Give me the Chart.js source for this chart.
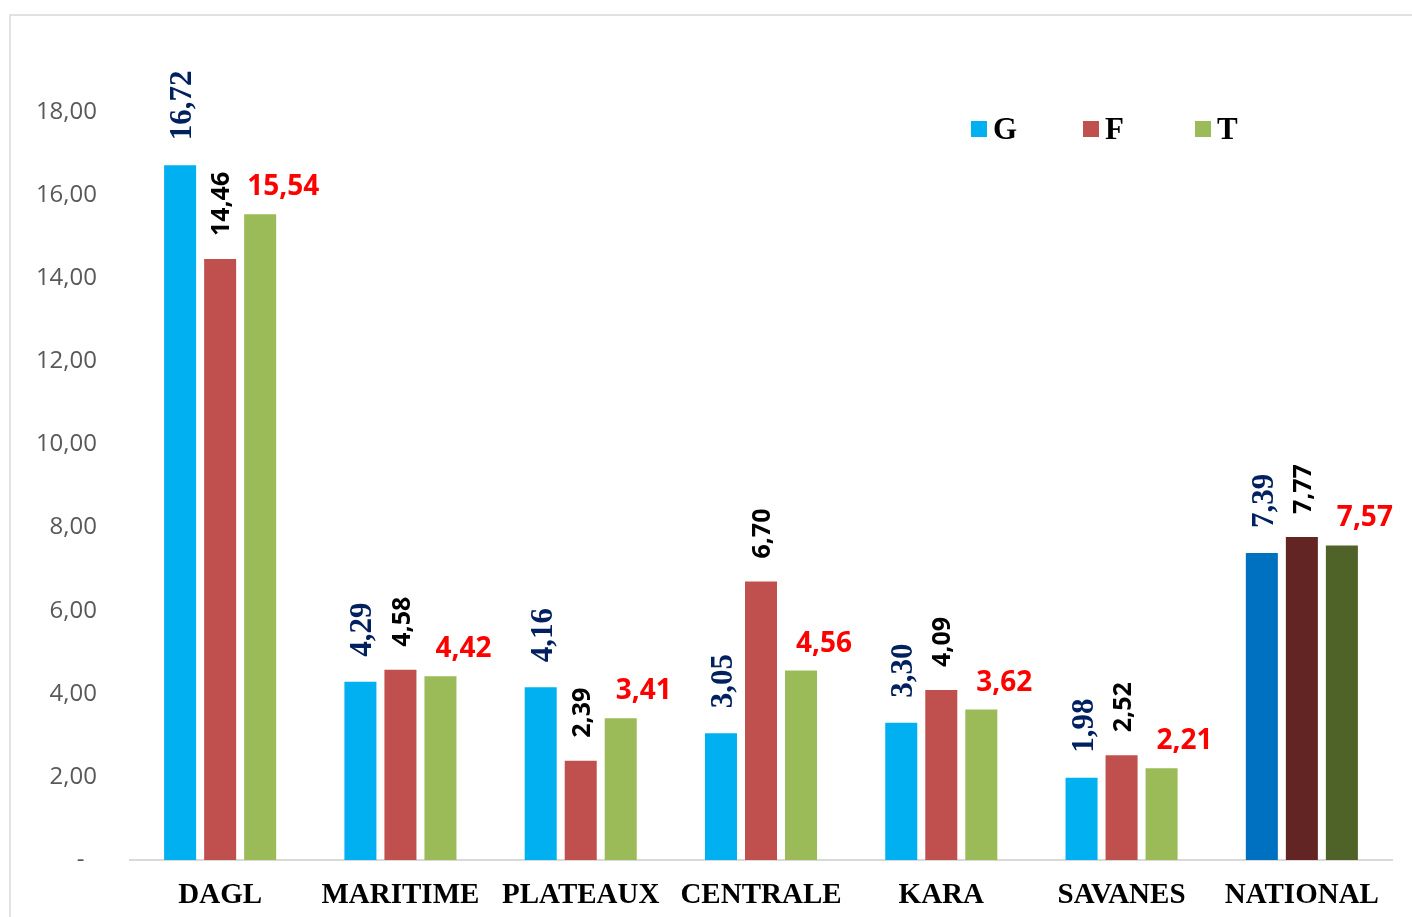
<!DOCTYPE html>
<html>
<head>
<meta charset="utf-8">
<script src="https://cdn.jsdelivr.net/npm/chart.js@4/dist/chart.umd.min.js"></script>
<style>
  html, body { margin: 0; padding: 0; background: #fff; }
  #wrap { width: 1412px; height: 917px; }
</style>
</head>
<body>
<div id="wrap"><canvas id="chart" width="1412" height="917"></canvas></div>
<script>
// data
const regions = ['DAGL', 'MARITIME', 'PLATEAUX', 'CENTRALE', 'KARA', 'SAVANES', 'NATIONAL'];
const seriesNames = ['G', 'F', 'T'];
const valuesG = [16.72, 4.29, 4.16, 3.05, 3.30, 1.98, 7.39];
const valuesF = [14.46, 4.58, 2.39, 6.70, 4.09, 2.52, 7.77];
const valuesT = [15.54, 4.42, 3.41, 4.56, 3.62, 2.21, 7.57];
const yTicks = [0, 2, 4, 6, 8, 10, 12, 14, 16, 18];

const baseColors = ['#00B0F0', '#C0504D', '#9BBB59'];
const nationalColors = ['#0070C0', '#632523', '#4F6228'];
const labelColors = ['#002060', '#000000', '#FF0000'];

function fmt(v) {
  return v.toFixed(2).replace('.', ',');
}

function colorsFor(i) {
  return regions.map(r => r === 'NATIONAL' ? nationalColors[i] : baseColors[i]);
}

// frame around the chart
const framePlugin = {
  id: 'frame',
  beforeDraw(chart) {
    const ctx = chart.ctx;
    ctx.save();
    ctx.fillStyle = '#fff';
    ctx.fillRect(0, 0, chart.width, chart.height);
    ctx.strokeStyle = '#d9d9d9';
    ctx.lineWidth = 1.5;
    ctx.strokeRect(10, 15, 1500, 1000);
    ctx.restore();
  }
};

// value labels: G and F rotated, T horizontal
const valueLabels = {
  id: 'valueLabels',
  afterDatasetsDraw(chart) {
    const ctx = chart.ctx;
    ctx.save();
    chart.data.datasets.forEach((ds, di) => {
      const meta = chart.getDatasetMeta(di);
      meta.data.forEach((bar, i) => {
        const txt = fmt(ds.data[i]);
        ctx.fillStyle = labelColors[di];
        if (di === 0) {
          ctx.font = 'bold 31px "Liberation Serif", "Times New Roman", serif';
          ctx.save();
          ctx.translate(bar.x + 3, bar.y - 25);
          ctx.rotate(-Math.PI / 2);
          ctx.textAlign = 'left';
          ctx.textBaseline = 'middle';
          ctx.fillText(txt, 0, 0);
          ctx.restore();
        } else if (di === 1) {
          ctx.font = 'bold 25px "Open Sans", "Liberation Sans", sans-serif';
          ctx.save();
          ctx.translate(bar.x + 2, bar.y - 23);
          ctx.rotate(-Math.PI / 2);
          ctx.textAlign = 'left';
          ctx.textBaseline = 'middle';
          ctx.fillText(txt, 0, 0);
          ctx.restore();
        } else {
          ctx.font = 'bold 28px "Open Sans", "Liberation Sans", sans-serif';
          ctx.textAlign = 'center';
          ctx.textBaseline = 'alphabetic';
          ctx.fillText(txt, bar.x + 23, bar.y - 19);
        }
      });
    });
    ctx.restore();
  }
};

// legend drawn top right like the original
const customLegend = {
  id: 'customLegend',
  afterDraw(chart) {
    const ctx = chart.ctx;
    ctx.save();
    ctx.font = 'bold 31px "Liberation Serif", "Times New Roman", serif';
    ctx.textBaseline = 'middle';
    ctx.textAlign = 'left';
    seriesNames.forEach((name, i) => {
      const x = 971 + i * 112;
      ctx.fillStyle = baseColors[i];
      ctx.fillRect(x, 121, 16, 16);
      ctx.fillStyle = '#000';
      ctx.fillText(name, x + 22, 131);
    });
    ctx.restore();
  }
};

new Chart(document.getElementById('chart'), {
  type: 'bar',
  data: {
    labels: regions,
    datasets: [
      { label: seriesNames[0], data: valuesG, backgroundColor: colorsFor(0) },
      { label: seriesNames[1], data: valuesF, backgroundColor: colorsFor(1) },
      { label: seriesNames[2], data: valuesT, backgroundColor: colorsFor(2) }
    ]
  },
  options: {
    responsive: false,
    animation: false,
    categoryPercentage: 0.666,
    barPercentage: 0.8,
    layout: { padding: { top: 112, right: 20, bottom: 0, left: 0 } },
    plugins: {
      legend: { display: false },
      tooltip: { enabled: false }
    },
    scales: {
      x: {
        grid: { display: false, drawTicks: false },
        border: { color: '#d9d9d9', width: 2 },
        ticks: {
          autoSkip: false,
          maxRotation: 0,
          minRotation: 0,
          padding: 18,
          color: '#000',
          font: { family: '"Liberation Serif", "Times New Roman", serif', size: 29, weight: 'bold' }
        },
        afterFit(scale) { scale.height = 57; }
      },
      y: {
        min: 0,
        max: 18,
        grid: { display: false, drawTicks: false },
        border: { display: false },
        afterBuildTicks(scale) { scale.ticks = yTicks.map(v => ({ value: v })); },
        ticks: {
          padding: 33,
          color: '#595959',
          font: { family: '"Open Sans", sans-serif', size: 24 },
          callback: v => v === 0 ? '-  ' : fmt(v)
        },
        afterFit(scale) { scale.width = 130; }
      }
    }
  },
  plugins: [framePlugin, valueLabels, customLegend]
});
</script>
</body>
</html>
